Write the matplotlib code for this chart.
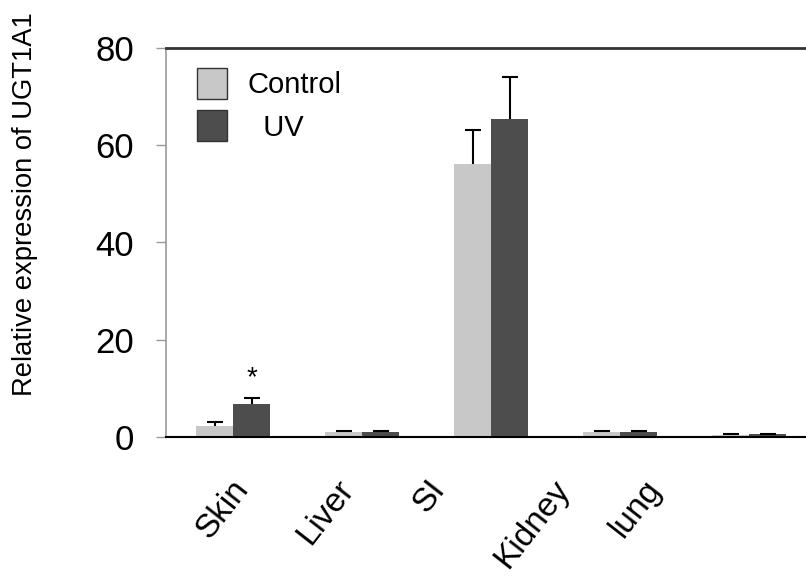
import matplotlib
matplotlib.use("Agg")
import matplotlib.pyplot as plt
import numpy as np

plt.rcParams['font.family'] = ['Liberation Sans', 'DejaVu Sans']

categories = ["Skin", "Liver", "SI", "Kidney", "lung"]
control = [2.3, 1.0, 56.1, 1.0, 0.5]
control_err = [0.7, 0.3, 7.0, 0.3, 0.15]
uv = [6.8, 1.0, 65.3, 1.1, 0.55]
uv_err = [1.2, 0.3, 8.8, 0.2, 0.15]
label_pos = [-0.08, 0.72, 1.52, 2.32, 3.12]
yticks = [0, 20, 40, 60, 80]

fig = plt.figure(figsize=(8.06, 5.88), dpi=100)
ax = fig.add_axes([166/806, 1-437/588, (806-166)/806, (437-48)/588])

x = np.arange(len(categories))
w = 0.287
ekw = dict(ecolor='black', elinewidth=1.5, capsize=6, capthick=1.5)
b1 = ax.bar(x - w/2, control, w, color='#c8c8c8', yerr=[np.zeros(len(control)), control_err],
            error_kw=ekw, label='Control', zorder=2)
b2 = ax.bar(x + w/2, uv, w, color='#4d4d4d', yerr=[np.zeros(len(uv)), uv_err],
            error_kw=ekw, label='  UV', zorder=2)
for b in (b1, b2):
    caps = b.errorbar.lines[1]
    if len(caps) > 1:
        caps[0].set_visible(False)

ax.text(x[0] + w/2, uv[0] + uv_err[0] + 4.0, '*', ha='center', va='center', fontsize=20)

ax.set_xlim(-0.52, 4.44)
ax.set_ylim(0, 80)
ax.set_yticks(yticks)
ax.set_yticklabels([str(v) for v in yticks], fontsize=25)
ax.tick_params(axis='y', direction='out', length=7, width=1, color='#999999', pad=16)

ax.set_xticks(label_pos)
ax.set_xticklabels(categories, rotation=52, ha='center', va='top', fontsize=24)
ax.tick_params(axis='x', length=0, pad=27)

ax.spines['right'].set_visible(False)
ax.spines['left'].set_color('#999999')
ax.spines['left'].set_linewidth(1.2)
ax.spines['top'].set_color('#333333')
ax.spines['top'].set_linewidth(2)
ax.spines['bottom'].set_color('black')
ax.spines['bottom'].set_linewidth(1.5)

leg = ax.legend(loc='upper left', bbox_to_anchor=(0.008, 1.016), frameon=False, fontsize=21,
                handlelength=1.03, handleheight=1.25, handletextpad=0.68, labelspacing=0.38)
for h in leg.legend_handles:
    h.set_edgecolor('#333333')
    h.set_linewidth(1)

fig.text(25/806, 1-204/588, 'Relative expression of UGT1A1', rotation=90,
         ha='center', va='center', fontsize=19.7)

fig.savefig('out.png', dpi=100)
